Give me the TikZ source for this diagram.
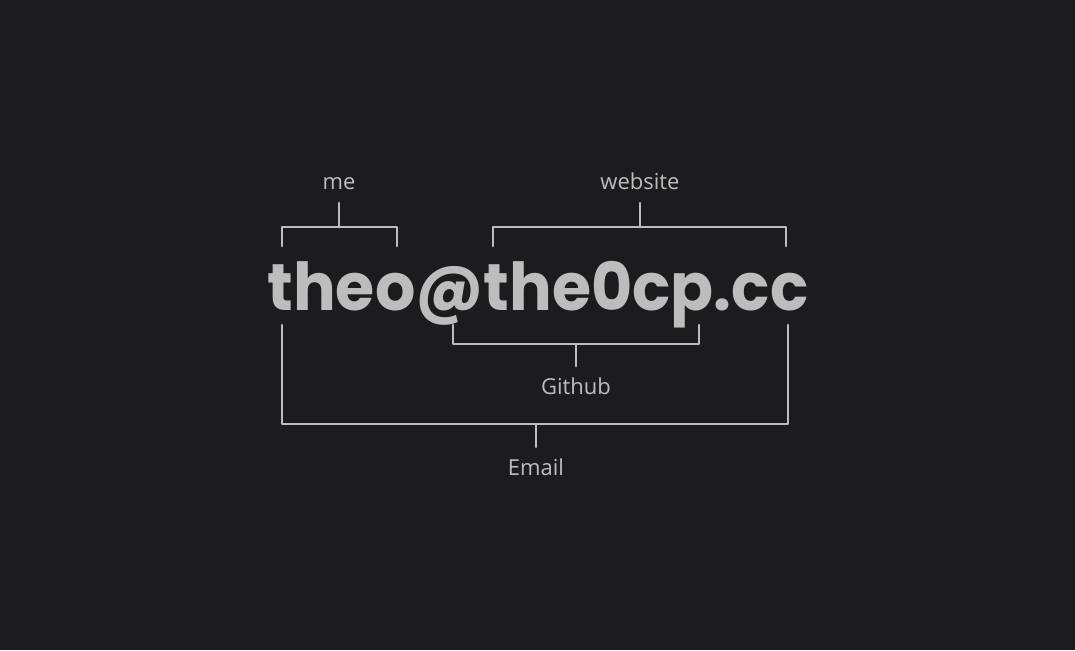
\documentclass[tikz,border=0pt]{standalone}
\usepackage{fontspec}
\setmainfont{Poppins}
\newfontfamily\addrfont[FakeStretch=0.96]{Poppins}
\newfontfamily\tagfont{Open Sans}
\usepackage{xcolor}
\usetikzlibrary{calc}
\definecolor{bg}{HTML}{1C1C1E}
\definecolor{ink}{HTML}{BDBDBD}
\tikzset{
  bracket/.style={draw=ink, line width=2.8pt, line cap=round, line join=round},
  tag/.style={text=ink, font=\tagfont\fontsize{22}{26}\selectfont,
    text height=16pt, text depth=5pt, inner xsep=0pt, inner ysep=8pt},
}

\begin{document}
\begin{tikzpicture}[x=1pt, y=-1pt]
    \fill[bg] (0,0) rectangle (1075,650);
    \useasboundingbox (0,0) rectangle (1075,650);

    % The address
    \node[text=ink, font=\addrfont\bfseries\fontsize{66}{78}\selectfont, inner sep=0pt, anchor=base]
        (addr) at (538,310) {theo@the0cp.cc};

    % Top brackets
    \coordinate (meL) at (282,246);
    \coordinate (meR) at (397,246);
    \coordinate (meM) at (339,227);
    \node[tag, anchor=south] (me) at (339,203) {me};
    \draw[bracket] (meL) -- ++(0,-19) -| (meR);
    \draw[bracket] (me.south) -- (meM);

    \coordinate (webL) at (493,246);
    \coordinate (webR) at (786,246);
    \coordinate (webM) at (640,227);
    \node[tag, anchor=south] (web) at (640,203) {website};
    \draw[bracket] (webL) -- ++(0,-19) -| (webR);
    \draw[bracket] (web.south) -- (webM);

    % Bottom brackets
    \coordinate (ghL) at (453,325);
    \coordinate (ghR) at (699,325);
    \coordinate (ghM) at (576,344);
    \node[tag, anchor=north, inner ysep=12pt] (gh) at (576,366) {Github};
    \draw[bracket] (ghL) -- ++(0,19) -| (ghR);
    \draw[bracket] (ghM) -- (gh.north);

    \coordinate (mailL) at (282,325);
    \coordinate (mailR) at (788,325);
    \coordinate (mailM) at (536,424);
    \node[tag, anchor=north, inner ysep=12pt] (mail) at (536,447) {Email};
    \draw[bracket] (mailL) -- ++(0,99) -| (mailR);
    \draw[bracket] (mailM) -- (mail.north);
\end{tikzpicture}
\end{document}
